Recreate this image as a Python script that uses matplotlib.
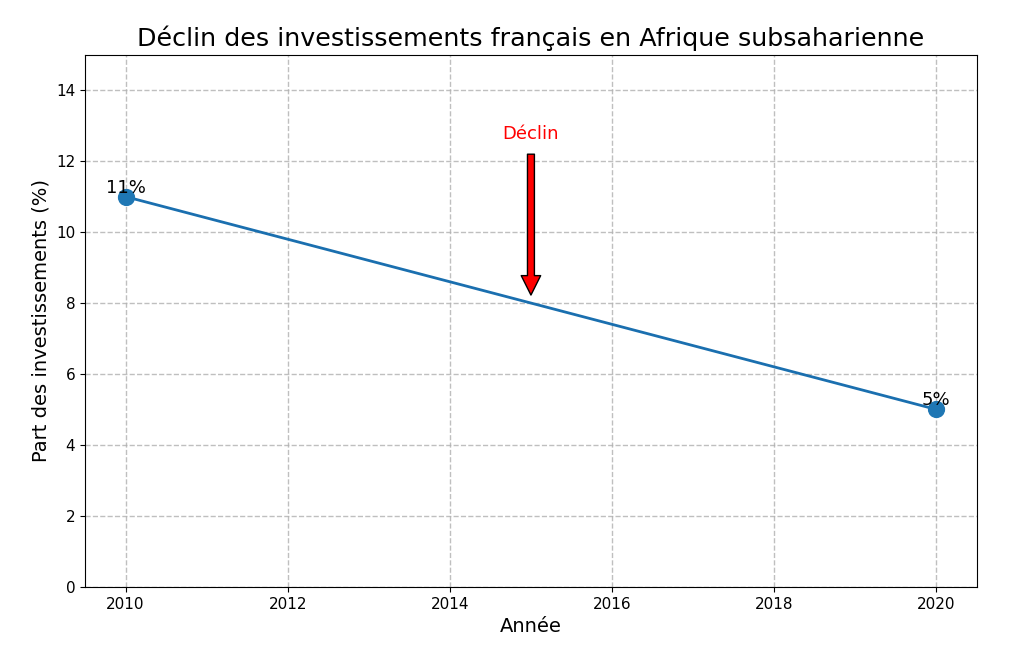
import matplotlib
matplotlib.use("Agg")
import matplotlib.pyplot as plt

years = [2010, 2020]
shares = [11, 5]
labels = ["11%", "5%"]

fig, ax = plt.subplots(figsize=(10.24, 6.52), dpi=100)
fig.subplots_adjust(left=0.083, right=0.954, top=0.916, bottom=0.1)
ax.plot(years, shares, color="#1a6faf", linewidth=2)
ax.scatter(years, shares, s=130, color="#1f77b4", zorder=3)
for x, y, t in zip(years, shares, labels):
    ax.text(x, y, t, ha="center", va="bottom", fontsize=13, zorder=4)

ax.annotate("Déclin", xy=(2015, 8), xytext=(2015, 12.5),
            ha="center", va="bottom", color="red", fontsize=13,
            arrowprops=dict(facecolor="red", edgecolor="black", shrink=0.05, width=5, headwidth=14, headlength=14))

ax.set_xlim(2009.5, 2020.5)
ax.set_ylim(0, 15)
ax.set_xticks([2010, 2012, 2014, 2016, 2018, 2020])
ax.set_yticks([0, 2, 4, 6, 8, 10, 12, 14])
ax.tick_params(labelsize=11)
ax.grid(True, linestyle="--", color="#b0b0b0", alpha=0.8, linewidth=1)
ax.set_axisbelow(True)
ax.set_title("Déclin des investissements français en Afrique subsaharienne", fontsize=18.3)
ax.set_xlabel("Année", fontsize=14)
ax.set_ylabel("Part des investissements (%)", fontsize=14)
fig.savefig("out.png", dpi=100)
